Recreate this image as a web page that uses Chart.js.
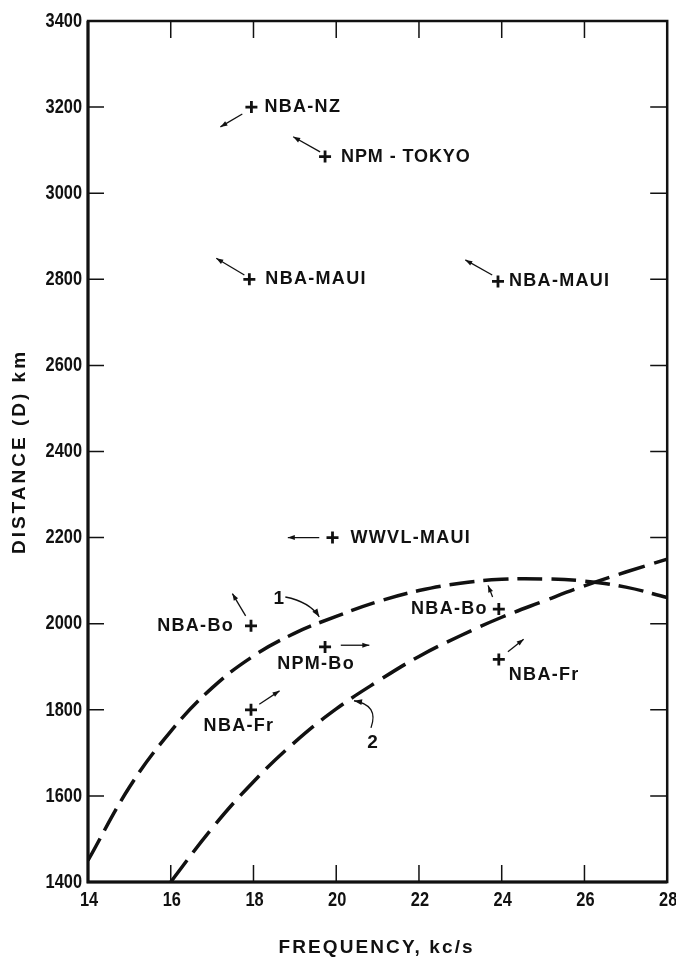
<!DOCTYPE html>
<html><head><meta charset="utf-8">
<script src="https://cdn.jsdelivr.net/npm/chart.js@4.4.1/dist/chart.umd.min.js"></script>
<style>html,body{margin:0;padding:0;background:#fff}#wrap{width:676px;height:959px;position:relative}</style>
</head><body><div id="wrap"><canvas id="c"></canvas></div>
<script>
// ---- data ----
const xTicks = [14, 16, 18, 20, 22, 24, 26, 28];
const yTicks = [1400, 1600, 1800, 2000, 2200, 2400, 2600, 2800, 3000, 3200, 3400];

const curve1Freq = [14, 15, 16, 17, 18, 19, 20, 21, 22, 23, 24, 25, 26, 27, 28];
const curve1Dist = [1450, 1620, 1750, 1851, 1925, 1978, 2017, 2051, 2077, 2094, 2103, 2104, 2099, 2085, 2061];
const curve2Freq = [16, 17, 18, 19, 20, 21, 22, 23, 24, 25, 26, 27, 28];
const curve2Dist = [1400, 1525, 1633, 1725, 1802, 1866, 1924, 1972, 2015, 2052, 2088, 2120, 2150];

const stationNames = ['NBA-NZ', 'NPM - TOKYO', 'NBA-MAUI', 'NBA-MAUI', 'WWVL-MAUI', 'NBA-Bo', 'NPM-Bo', 'NBA-Fr', 'NBA-Bo', 'NBA-Fr'];
const stationFreq  = [17.95, 19.73, 17.9, 23.91, 19.91, 17.94, 19.73, 17.94, 23.93, 23.93];
const stationDist  = [3200, 3085, 2800, 2795, 2200, 1995, 1946, 1800, 2034, 1917];

// arrows: tail -> head, in chart units
const arrowFromFreq = [17.73, 19.61, 17.78, 23.77, 19.59, 17.81, 20.11, 18.14, 23.78, 24.15];
const arrowFromDist = [3184, 3096, 2810, 2810, 2200, 2018, 1950, 1813, 2062, 1935];
const arrowToFreq   = [17.2, 18.96, 17.1, 23.12, 18.83, 17.49, 20.80, 18.63, 23.67, 24.53];
const arrowToDist   = [3154, 3131, 2849, 2845, 2200, 2070, 1950, 1844, 2089, 1964];

// curve number labels and their curved pointers
const curveLabels    = ['1', '2'];
const curveLabelFreq = [18.61, 20.88];
const curveLabelDist = [2059, 1723];
const pointerFromFreq = [18.77, 20.84];
const pointerFromDist = [2062, 1758];
const pointerBendFreq = [19.35, 21.04];
const pointerBendDist = [2051, 1811];
const pointerToFreq   = [19.59, 20.43];
const pointerToDist   = [2016, 1821];

// ---- label placement (pixels relative to the marker) ----
const labelPlacement = [
  {dx: 13, dy: 0, align: 'left'},
  {dx: 16, dy: 0, align: 'left'},
  {dx: 16, dy: 0, align: 'left'},
  {dx: 11, dy: 0, align: 'left'},
  {dx: 18, dy: 0, align: 'left'},
  {dx: -17, dy: 0, align: 'right'},
  {dx: -9, dy: 17, align: 'center'},
  {dx: -12, dy: 16, align: 'center'},
  {dx: -11, dy: 0, align: 'right'},
  {dx: 10, dy: 16, align: 'left'}
];

const INK = '#111';
const TEXT_FONT = '"Liberation Sans", Arial, sans-serif';
const TICK_SQUEEZE = 0.78;

function toXY(fs, ds) { return fs.map((f, i) => ({x: f, y: ds[i]})); }

function arrowHead(ctx, x1, y1, x2, y2, len, wid) {
  const ang = Math.atan2(y2 - y1, x2 - x1);
  ctx.beginPath();
  ctx.moveTo(x2, y2);
  ctx.lineTo(x2 - len * Math.cos(ang) + wid / 2 * Math.sin(ang), y2 - len * Math.sin(ang) - wid / 2 * Math.cos(ang));
  ctx.lineTo(x2 - len * Math.cos(ang) - wid / 2 * Math.sin(ang), y2 - len * Math.sin(ang) + wid / 2 * Math.cos(ang));
  ctx.closePath();
  ctx.fill();
}

function squeezedText(ctx, text, px, py, align) {
  ctx.save();
  ctx.translate(px, py);
  ctx.scale(TICK_SQUEEZE, 1);
  ctx.textAlign = align;
  ctx.fillText(text, 0, 0);
  ctx.restore();
}

const decor = {
  id: 'decor',
  afterDatasetsDraw(chart) {
    const {ctx, chartArea: a, scales: {x, y}} = chart;
    ctx.save();
    ctx.strokeStyle = INK; ctx.fillStyle = INK;
    // frame
    ctx.lineWidth = 2.5;
    ctx.strokeRect(a.left, a.top, a.right - a.left, a.bottom - a.top);
    ctx.lineWidth = 3;
    ctx.beginPath(); ctx.moveTo(a.left, a.top); ctx.lineTo(a.left, a.bottom); ctx.lineTo(a.right, a.bottom); ctx.stroke();
    // inward ticks
    ctx.lineWidth = 1.5;
    ctx.beginPath();
    x.ticks.forEach(t => {
      if (t.value <= x.min || t.value >= x.max) return;
      const px = x.getPixelForValue(t.value);
      ctx.moveTo(px, a.top); ctx.lineTo(px, a.top + 17);
      ctx.moveTo(px, a.bottom); ctx.lineTo(px, a.bottom - 17);
    });
    y.ticks.forEach(t => {
      if (t.value <= y.min || t.value >= y.max) return;
      const py = y.getPixelForValue(t.value);
      ctx.moveTo(a.left, py); ctx.lineTo(a.left + 16, py);
      ctx.moveTo(a.right, py); ctx.lineTo(a.right - 17, py);
    });
    ctx.stroke();

    // tick labels (condensed), positioned by the scales
    ctx.font = 'bold 21px ' + TEXT_FONT;
    ctx.textBaseline = 'middle';
    x.ticks.forEach(t => squeezedText(ctx, String(t.value), x.getPixelForValue(t.value) + 1, a.bottom + 18, 'center'));
    y.ticks.forEach(t => squeezedText(ctx, String(t.value), a.left - 6, y.getPixelForValue(t.value), 'right'));

    // station labels
    ctx.font = 'bold 18px ' + TEXT_FONT;
    ctx.letterSpacing = '1.3px';
    ctx.textBaseline = 'middle';
    stationNames.forEach((name, i) => {
      const p = labelPlacement[i];
      const px = x.getPixelForValue(stationFreq[i]) + p.dx;
      const py = y.getPixelForValue(stationDist[i]) + p.dy;
      ctx.textAlign = p.align;
      ctx.letterSpacing = (i === 1) ? '0.9px' : '1.3px';
      ctx.fillText(name, px, py);
    });
    // arrows
    ctx.lineWidth = 1.3;
    stationNames.forEach((n, i) => {
      const x1 = x.getPixelForValue(arrowFromFreq[i]), y1 = y.getPixelForValue(arrowFromDist[i]);
      const x2 = x.getPixelForValue(arrowToFreq[i]), y2 = y.getPixelForValue(arrowToDist[i]);
      ctx.beginPath(); ctx.moveTo(x1, y1); ctx.lineTo(x2, y2); ctx.stroke();
      arrowHead(ctx, x1, y1, x2, y2, 7, 5);
    });
    // curve number labels
    ctx.font = 'bold 19px ' + TEXT_FONT;
    ctx.letterSpacing = '0px';
    ctx.textAlign = 'center';
    curveLabels.forEach((l, i) => {
      ctx.fillText(l, x.getPixelForValue(curveLabelFreq[i]), y.getPixelForValue(curveLabelDist[i]));
      const x1 = x.getPixelForValue(pointerFromFreq[i]), y1 = y.getPixelForValue(pointerFromDist[i]);
      const cx = x.getPixelForValue(pointerBendFreq[i]), cy = y.getPixelForValue(pointerBendDist[i]);
      const x2 = x.getPixelForValue(pointerToFreq[i]), y2 = y.getPixelForValue(pointerToDist[i]);
      ctx.beginPath(); ctx.moveTo(x1, y1); ctx.quadraticCurveTo(cx, cy, x2, y2); ctx.stroke();
      arrowHead(ctx, cx, cy, x2, y2, 8, 6);
    });
    // axis titles
    ctx.font = 'bold 19px ' + TEXT_FONT;
    ctx.letterSpacing = '2.1px';
    ctx.textAlign = 'center';
    ctx.fillText('FREQUENCY, kc/s', (a.left + a.right) / 2 - 1, 948);
    ctx.save();
    ctx.translate(20, (a.top + a.bottom) / 2);
    ctx.rotate(-Math.PI / 2);
    ctx.letterSpacing = '3px';
    ctx.fillText('DISTANCE (D) km', 0, 0);
    ctx.restore();
    ctx.restore();
  }
};

new Chart(document.getElementById('c'), {
  type: 'scatter',
  data: {
    datasets: [
      {
        label: '1', data: toXY(curve1Freq, curve1Dist), showLine: true,
        borderColor: INK, borderWidth: 3.5, borderDash: [25, 9], borderCapStyle: 'butt',
        pointRadius: 0, tension: 0.4, fill: false
      },
      {
        label: '2', data: toXY(curve2Freq, curve2Dist), showLine: true,
        borderColor: INK, borderWidth: 3.5, borderDash: [27, 10], borderCapStyle: 'butt',
        pointRadius: 0, tension: 0.4, fill: false
      },
      {
        label: 'stations', data: toXY(stationFreq, stationDist),
        pointStyle: 'cross', pointRadius: 6, pointBorderWidth: 2.8,
        borderColor: INK, backgroundColor: INK, showLine: false
      }
    ]
  },
  options: {
    responsive: true, maintainAspectRatio: false, animation: false,
    devicePixelRatio: 1,
    layout: {padding: {top: 21, right: 7, left: 0, bottom: 0}},
    plugins: {legend: {display: false}, tooltip: {enabled: false}},
    scales: {
      x: {
        type: 'linear', position: 'bottom', min: xTicks[0], max: xTicks[xTicks.length - 1],
        afterBuildTicks(s) { s.ticks = xTicks.map(v => ({value: v})); },
        afterFit(s) { s.height = 77; s.paddingLeft = 0; s.paddingRight = 0; },
        grid: {display: false, drawTicks: false}, border: {display: false},
        ticks: {display: false}
      },
      y: {
        type: 'linear', position: 'left', min: yTicks[0], max: yTicks[yTicks.length - 1],
        afterBuildTicks(s) { s.ticks = yTicks.map(v => ({value: v})); },
        afterFit(s) { s.width = 88; s.paddingTop = 0; s.paddingBottom = 0; },
        grid: {display: false, drawTicks: false}, border: {display: false},
        ticks: {display: false}
      }
    }
  },
  plugins: [decor]
});
</script>
</body></html>
